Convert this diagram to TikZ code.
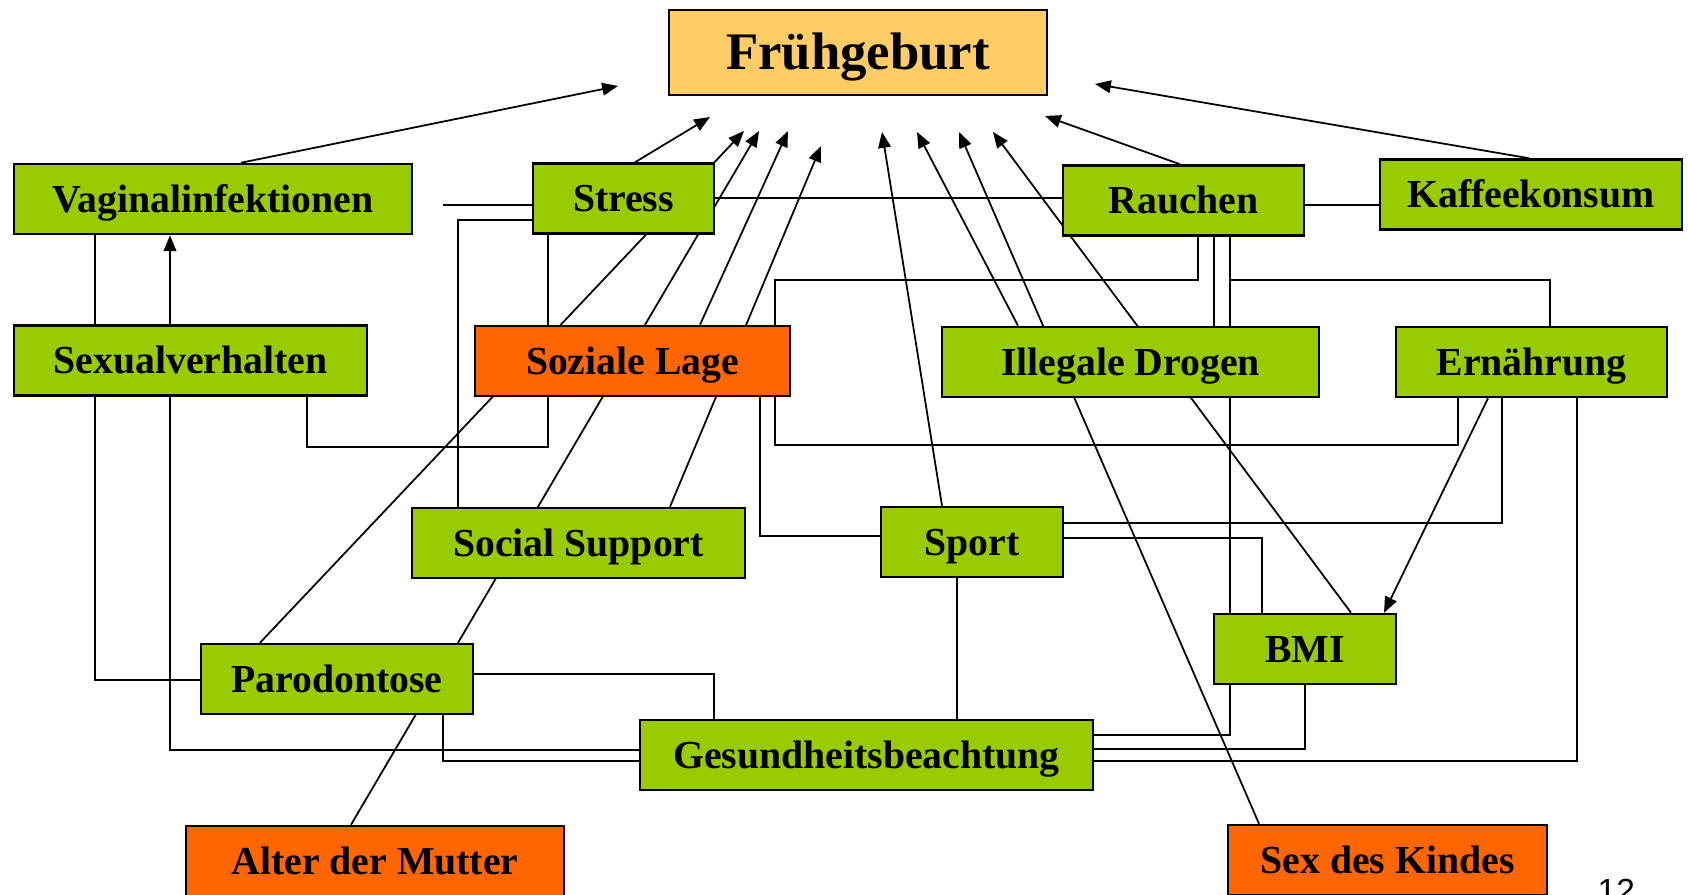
\documentclass[tikz,border=0pt]{standalone}
\usepackage{fontspec}
\setmainfont{Liberation Serif}
\newfontfamily\arialfont{Liberation Sans}
\usepackage{xcolor}
\usetikzlibrary{arrows.meta}
\usetikzlibrary{backgrounds}
\definecolor{leafgreen}{HTML}{99CC00}
\definecolor{hotorange}{HTML}{FF6600}
\definecolor{paleorange}{HTML}{FFCC66}

\begin{document}
\begin{tikzpicture}[x=0.01cm,y=-0.01cm,
    factor/.style={draw,line width=0.7pt,fill=leafgreen,inner sep=0pt,
      minimum height=0.7cm,font=\bfseries\fontsize{11.3}{13}\selectfont,
      text height=7.5pt,text depth=0pt},
    social/.style={factor,fill=hotorange},
    outcome/.style={factor,fill=paleorange,minimum height=0.85cm,
      font=\bfseries\fontsize{15}{18}\selectfont,text height=9.9pt},
    wire/.style={line width=0.5pt},
    cause/.style={wire,-{Triangle[length=4.5pt,width=3.6pt]}}]
    \useasboundingbox (0,0) rectangle (1688,894);

    \node[outcome,minimum width=3.78cm] (fg) at (858,52.5) {Frühgeburt};

    \node[factor,minimum width=3.98cm] (vag)        at (213,199)    {Vaginalinfektionen};
    \node[factor,minimum width=1.81cm] (stress)     at (623.5,198.5) {Stress};
    \node[factor,minimum width=2.41cm] (rauchen)    at (1183.5,200.5) {Rauchen};
    \node[factor,minimum width=3.02cm] (kaffee)     at (1531,194.5) {Kaffeekonsum};
    \node[factor,minimum width=3.53cm] (sexual)     at (190.5,360.5) {Sexualverhalten};
    \node[social,minimum width=3.15cm] (sozial)     at (632.5,361)  {Soziale Lage};
    \node[factor,minimum width=3.77cm] (drogen)     at (1130.5,362) {Illegale Drogen};
    \node[factor,minimum width=2.71cm] (ernaehrung) at (1531.5,362) {Ernährung};
    \node[factor,minimum width=3.33cm] (support)    at (578.5,543)  {Social Support};
    \node[factor,minimum width=1.82cm] (sport)      at (972,542)    {Sport};
    \node[factor,minimum width=1.82cm] (bmi)        at (1305,649)   {BMI};
    \node[factor,minimum width=2.72cm] (parodont)   at (337,679)    {Parodontose};
    \node[factor,minimum width=4.53cm] (gesund)     at (866.5,755)  {Gesundheitsbeachtung};
    \node[social,minimum width=3.78cm] (alter)      at (375,861)    {Alter der Mutter};
    \node[social,minimum width=3.19cm] (sex)        at (1387.5,860) {Sex des Kindes};

    \node[anchor=north west,inner sep=0pt,font=\arialfont\fontsize{9.5}{11}\selectfont]
      (pagenr) at (1597,878) {12};

    % arrow tips below Frühgeburt
    \coordinate (aVag)     at (618,86);
    \coordinate (aStress)  at (710,117);
    \coordinate (aParo)    at (744,131);
    \coordinate (aAlter)   at (759,131);
    \coordinate (aSozial)  at (788,131);
    \coordinate (aSupport) at (821,146);
    \coordinate (aSport)   at (882,132);
    \coordinate (aDrogen)  at (917,132);
    \coordinate (aSex)     at (959,132);
    \coordinate (aBmi)     at (993,132);
    \coordinate (aRauchen) at (1045,116);
    \coordinate (aKaffee)  at (1095,84);

    \begin{scope}[on background layer]
      \draw[cause] (vag.north -| 241,0)      -- (aVag);
      \draw[cause] (stress.north -| 635,0)   -- (aStress);
      \draw[cause] (parodont.north -| 260,0) -- (aParo);
      \draw[cause] (alter.north -| 351,0)    -- (aAlter);
      \draw[cause] (sozial.north -| 700,0)   -- (aSozial);
      \draw[cause] (support.north -| 670,0)  -- (aSupport);
      \draw[cause] (sport.north -| 942,0)    -- (aSport);
      \draw[cause] (drogen.north -| 1018,0)  -- (aDrogen);
      \draw[cause] (sex.north -| 1259,0)     -- (aSex);
      \draw[cause] (bmi.north -| 1351,0)     -- (aBmi);
      \draw[cause] (rauchen.north -| 1180,0) -- (aRauchen);
      \draw[cause] (kaffee.north -| 1529,0)  -- (aKaffee);

      \draw[cause] (gesund.west |- 0,750) -| (vag.south -| 170,0);
      \draw[cause] (ernaehrung.south -| 1488,0) -- (bmi.north -| 1384,0);

      \draw[wire,shorten <=0.3cm] (vag.east |- 0,205) -- (stress.west |- 0,205);
      \draw[wire] (stress.west |- 0,220) -| (support.north -| 458,0);
      \draw[wire] (stress.east |- 0,198) -- (rauchen.west |- 0,198);
      \draw[wire] (stress.south -| 548,0) -- (sozial.north -| 548,0);
      \draw[wire] (sexual.south -| 307,0) |- (548,447) -- (sozial.south -| 548,0);
      \draw[wire] (vag.south -| 95,0) |- (parodont.west |- 0,680);
      \draw[wire] (parodont.east |- 0,674) -| (gesund.north -| 714,0);
      \draw[wire] (parodont.south -| 443,0) |- (gesund.west |- 0,761);
      \draw[wire] (rauchen.south -| 1198,0) |- (775,280) -- (sozial.north -| 775,0);
      \draw[wire] (rauchen.south -| 1214,0) -- (drogen.north -| 1214,0);
      \draw[wire] (rauchen.south -| 1230,0) |- (gesund.east |- 0,735);
      \draw[wire] (rauchen.south -| 1230,0) |- (1550,280) -- (ernaehrung.north -| 1550,0);
      \draw[wire] (rauchen.east |- 0,205) -- (kaffee.west |- 0,205);
      \draw[wire] (ernaehrung.south -| 1458,0) |- (775,445) -- (sozial.south -| 775,0);
      \draw[wire] (ernaehrung.south -| 1502,0) |- (sport.east |- 0,523);
      \draw[wire] (ernaehrung.south -| 1577,0) |- (gesund.east |- 0,761);
      \draw[wire] (sport.east |- 0,538) -| (bmi.north -| 1262,0);
      \draw[wire] (sport.west |- 0,536) -| (sozial.south -| 760,0);
      \draw[wire] (sport.south -| 957,0) -- (gesund.north -| 957,0);
      \draw[wire] (bmi.south -| 1305,0) |- (gesund.east |- 0,749);
    \end{scope}
  \end{tikzpicture}
\end{document}
